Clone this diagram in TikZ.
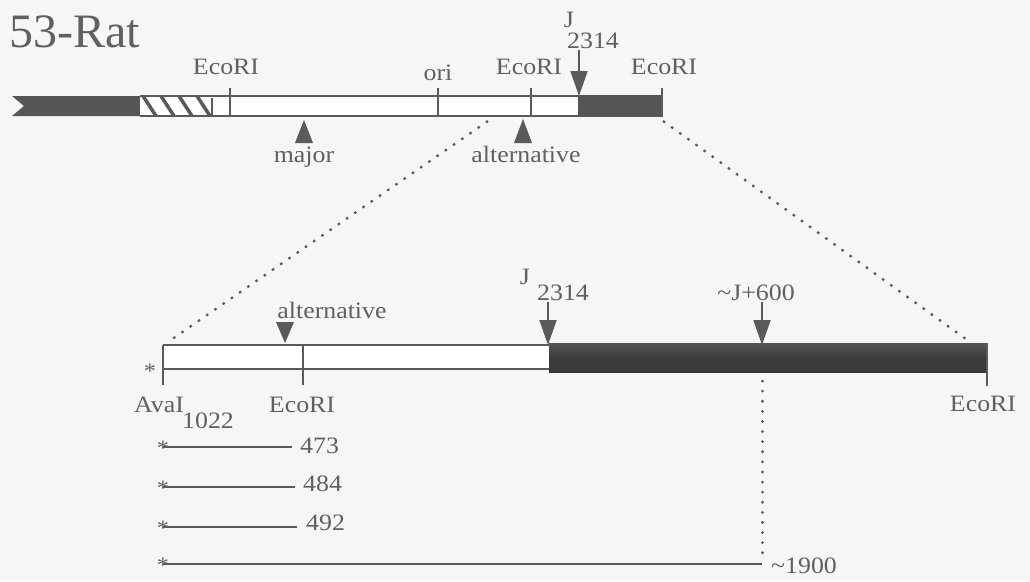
\documentclass[tikz,border=0pt]{standalone}
\usepackage{fontspec}
\setmainfont[FakeStretch=1.1]{Liberation Serif}
\newfontfamily\titlefont{Liberation Serif}
\usetikzlibrary{arrows.meta}
\definecolor{ink}{HTML}{5A5A5A}
\definecolor{txt}{HTML}{606060}
\definecolor{dk}{HTML}{555555}
\definecolor{dkr}{HTML}{383838}
\definecolor{bg}{HTML}{F6F6F6}
\begin{document}
\begin{tikzpicture}[x=1pt,y=-1pt,
  lbl/.style={text=txt, font=\fontsize{23.5}{23.5}\selectfont, inner sep=0pt, anchor=base},
  barline/.style={draw=ink, line width=2pt},
  tick/.style={draw=ink, line width=2pt},
  tri/.style={fill=ink, draw=none},
  pin/.style={draw=ink, line width=1.8pt, -{Triangle[width=17pt,length=25pt]}},
  dashdots/.style={draw=ink, line width=2.2pt, dash pattern=on 2.5pt off 7.5pt},
  dots/.style={draw=ink, line width=3pt, dash pattern=on 0.1pt off 10pt, line cap=round},
  frag/.style={draw=ink, line width=2pt},
  star/.style={text=txt, font=\fontsize{22}{22}\selectfont, inner sep=0pt, anchor=base}]
\fill[bg] (0,0) rectangle (1030,581);
\useasboundingbox (0,0) rectangle (1030,581);

% title
\node[text=txt, font=\titlefont\fontsize{48}{48}\selectfont, inner sep=0pt, anchor=base west] (title) at (9,47) {53-Rat};

% ---------- top map ----------
\fill[dk] (12,96) -- (140,96) -- (140,116) -- (12,116) -- (24,106) -- cycle;
\fill[white] (140,96) rectangle (212,116);
\begin{scope}
  \clip (140,96) rectangle (212,116);
  \foreach \x in {143,161,179,197} \draw[ink, line width=3.5pt] (\x,96) -- (\x+13,116);
\end{scope}
\fill[white] (212,96) rectangle (578,116);
\draw[barline] (140,96) -- (578,96);
\draw[barline] (140,116) -- (578,116);
\fill[dk] (578,95) rectangle (662,117);
\draw[tick] (212,98) -- (212,116);
\draw[tick] (230,88) -- (230,116);
\draw[tick] (438,88) -- (438,116);
\draw[tick] (531,88) -- (531,116);
\draw[tick] (662,88) -- (662,117);

\node[lbl] (te1) at (226,74) {EcoRI};
\node[lbl] (tori) at (438,80) {ori};
\node[lbl] (te2) at (529,74) {EcoRI};
\node[lbl] (te3) at (664,74) {EcoRI};
\node[lbl] (tJ) at (569,27) {J};
\node[lbl] (tJn) at (593,48) {2314};
\coordinate (tJs) at (579,50);
\coordinate (tJt) at (579,96);
\draw[pin] (tJs) -- (tJt);

\fill[tri] (304,120) -- (313,143) -- (295,143) -- cycle;
\node[lbl] (tmaj) at (304,162) {major};
\fill[tri] (523,119) -- (532,143) -- (514,143) -- cycle;
\node[lbl] (talt) at (526,162) {alternative};

% ---------- lower map ----------
\fill[white] (163,345) rectangle (549,369);
\draw[barline] (163,345) -- (549,345);
\draw[barline] (163,369) -- (549,369);
\shade[top color=dk, bottom color=dkr, middle color=dkr!85!dk] (549,343) rectangle (987,372);
\draw[tick] (163,345) -- (163,385);
\draw[tick] (303,345) -- (303,385);
\draw[tick] (987,343) -- (987,386);
\node[star] (bstar) at (150,378) {*};

\node[lbl] (bava) at (159,412) {AvaI};
\node[lbl] (bava2) at (208,428) {1022};
\node[lbl] (be1) at (302,412) {EcoRI};
\node[lbl] (be2) at (983,411) {EcoRI};

\fill[tri] (285,343) -- (294,322) -- (276,322) -- cycle;
\node[lbl] (balt) at (332,318) {alternative};

\node[lbl] (bJ) at (525,284) {J};
\node[lbl] (bJn) at (563,300) {2314};
\coordinate (bJs) at (548,302);
\coordinate (bJt) at (548,345);
\draw[pin] (bJs) -- (bJt);

\node[lbl] (b600) at (756,300) {\textasciitilde J+600};
\coordinate (b6s) at (762,302);
\coordinate (b6t) at (762,345);
\draw[pin] (b6s) -- (b6t);

% dotted expansion lines
\coordinate (z1a) at (488,121);
\coordinate (z1b) at (168,342);
\coordinate (z2a) at (663,121);
\coordinate (z2b) at (970,342);
\draw[dashdots] (z1a) -- (z1b);
\draw[dashdots] (z2a) -- (z2b);
\coordinate (vd1) at (762,381);
\coordinate (vd2) at (762,556);
\draw[dots] (vd1) -- (vd2);

% fragments
\coordinate (f1a) at (163,447); \coordinate (f1b) at (292,447);
\coordinate (f2a) at (163,487); \coordinate (f2b) at (295,487);
\coordinate (f3a) at (163,527); \coordinate (f3b) at (297,527);
\coordinate (f4a) at (163,564); \coordinate (f4b) at (762,564);
\draw[frag] (f1a) -- (f1b);
\draw[frag] (f2a) -- (f2b);
\draw[frag] (f3a) -- (f3b);
\draw[frag] (f4a) -- (f4b);
\node[star] (s1) at (163,455) {*};
\node[star] (s2) at (163,495) {*};
\node[star] (s3) at (163,535) {*};
\node[star] (s4) at (163,572) {*};
\node[lbl, anchor=base west] (n1) at (300,453) {473};
\node[lbl, anchor=base west] (n2) at (303,491) {484};
\node[lbl, anchor=base west] (n3) at (306,530) {492};
\node[lbl, anchor=base west] (n4) at (771,573) {\textasciitilde1900};
\end{tikzpicture}
\end{document}
